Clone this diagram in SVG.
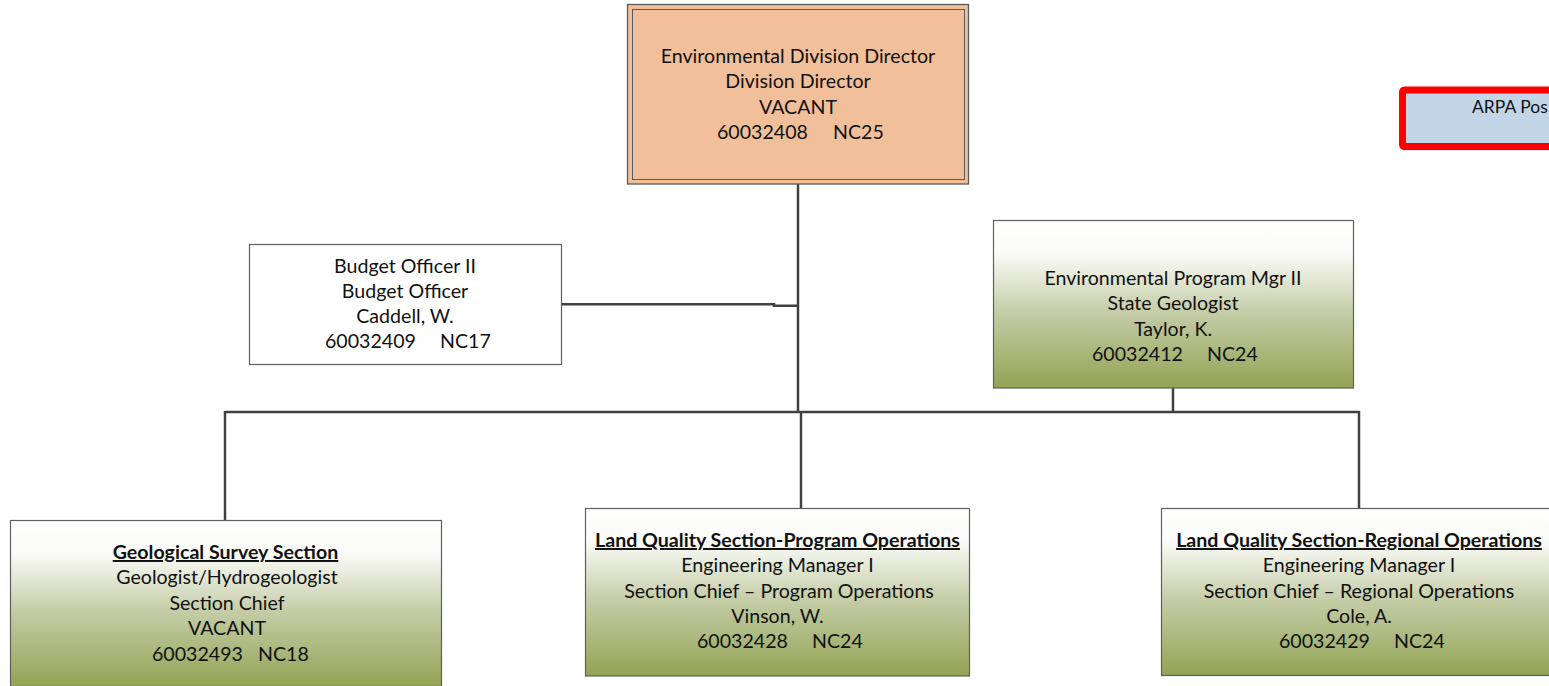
<svg xmlns="http://www.w3.org/2000/svg" width="1549" height="686" viewBox="0 0 1549 686">
<defs>
<linearGradient id="green" x1="0" y1="0" x2="0" y2="1">
<stop offset="0" stop-color="#ffffff"/>
<stop offset="0.2" stop-color="#fafbf7"/>
<stop offset="0.55" stop-color="#c4cca6"/>
<stop offset="1" stop-color="#92a454"/>
</linearGradient>
<style>
.t{font-family:Lato,"Liberation Sans",sans-serif;font-size:19.6px;fill:#111;text-anchor:middle}
.s{text-anchor:start}
.b{font-weight:bold;text-decoration:underline}
.box{stroke:#5f5f5f;stroke-width:1.2}
.con{fill:none;stroke:#404040;stroke-width:2.5}
</style>
</defs>
<g id="connectors">
<path class="con" d="M798,184 V412"/>
<path class="con" d="M801,412 V508"/>
<path class="con" d="M561,304.3 H774 V305.7 H799"/>
<path class="con" d="M225,412 H1359 V508"/>
<path class="con" d="M225,411 V520"/>
<path class="con" d="M1173,388 V412"/>
</g>
<g id="director">
<rect x="627.5" y="4.5" width="341" height="179.5" fill="#f1c09a" stroke="#5a5a5a" stroke-width="1.3"/>
<rect x="632.5" y="9.5" width="332" height="170" fill="none" stroke="#5a5a5a" stroke-width="1"/>
<text class="t" x="798" y="63">Environmental Division Director</text>
<text class="t" x="798" y="88">Division Director</text>
<text class="t" x="798" y="114">VACANT</text>
<text class="t s" x="717" y="139">60032408</text>
<text class="t s" x="833" y="139">NC25</text>
</g>
<g id="arpa">
<rect x="1402" y="91" width="160" height="60" rx="2" fill="#e6e6e6"/>
<rect x="1402.5" y="90" width="160" height="56.5" rx="2" fill="#c3d6e7" stroke="#ff0000" stroke-width="7"/>
<text class="t s" x="1472" y="113" style="font-size:17.5px">ARPA Pos</text>
</g>
<g id="budget">
<rect class="box" x="249.5" y="244.5" width="312" height="120" fill="#ffffff"/>
<text class="t" x="405" y="273">Budget Officer II</text>
<text class="t" x="405" y="298">Budget Officer</text>
<text class="t" x="405" y="323">Caddell, W.</text>
<text class="t s" x="325" y="348">60032409</text>
<text class="t s" x="440" y="348">NC17</text>
</g>
<g id="geologist">
<rect class="box" x="993.5" y="220.5" width="360" height="167.5" fill="url(#green)"/>
<text class="t" x="1173" y="285">Environmental Program Mgr II</text>
<text class="t" x="1173" y="310">State Geologist</text>
<text class="t" x="1173" y="336">Taylor, K.</text>
<text class="t s" x="1092" y="361">60032412</text>
<text class="t s" x="1207" y="361">NC24</text>
</g>
<g id="geological-survey">
<rect class="box" x="10.5" y="520.5" width="431" height="166" fill="url(#green)"/>
<text class="t b" x="225.5" y="559">Geological Survey Section</text>
<text class="t" x="227" y="584">Geologist/Hydrogeologist</text>
<text class="t" x="227" y="610">Section Chief</text>
<text class="t" x="227" y="635">VACANT</text>
<text class="t s" x="152" y="661">60032493</text>
<text class="t s" x="258" y="661">NC18</text>
</g>
<g id="program-ops">
<rect class="box" x="585.5" y="508.5" width="384" height="167.5" fill="url(#green)"/>
<text class="t b" x="777.5" y="547">Land Quality Section-Program Operations</text>
<text class="t" x="777.5" y="572">Engineering Manager I</text>
<text class="t" x="779" y="598">Section Chief – Program Operations</text>
<text class="t" x="777.5" y="623">Vinson, W.</text>
<text class="t s" x="697" y="648">60032428</text>
<text class="t s" x="812" y="648">NC24</text>
</g>
<g id="regional-ops">
<rect class="box" x="1161.5" y="508.5" width="396" height="167" fill="url(#green)"/>
<text class="t b" x="1359" y="547">Land Quality Section-Regional Operations</text>
<text class="t" x="1359" y="572">Engineering Manager I</text>
<text class="t" x="1359" y="598">Section Chief – Regional Operations</text>
<text class="t" x="1359" y="623">Cole, A.</text>
<text class="t s" x="1279" y="648">60032429</text>
<text class="t s" x="1394" y="648">NC24</text>
</g>
</svg>
